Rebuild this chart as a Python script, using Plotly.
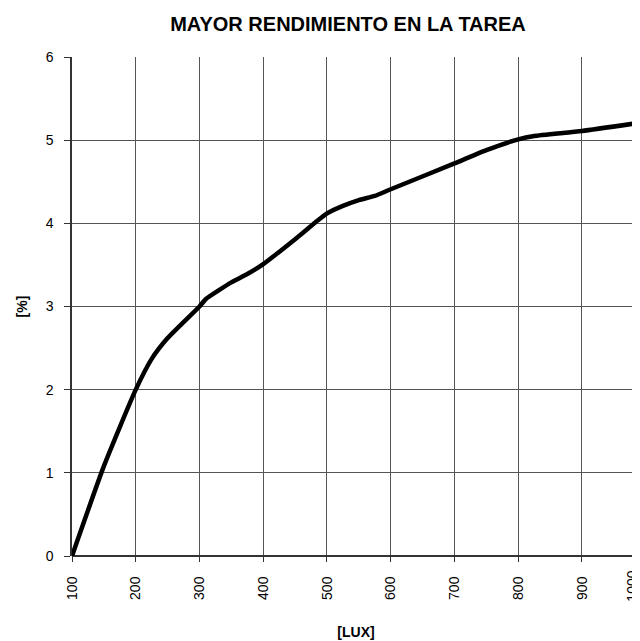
import plotly.graph_objects as go

# lux vs performance gain
lux = [100, 150, 200, 225, 250, 300, 310, 350, 375, 400, 450, 480, 500,
       525, 550, 575, 600, 700, 750, 800, 825, 900, 1000]
gain = [0.0, 1.08, 2.0, 2.37, 2.62, 3.0, 3.09, 3.29, 3.39, 3.51, 3.81, 4.0,
        4.12, 4.21, 4.28, 4.33, 4.41, 4.72, 4.88, 5.01, 5.05, 5.11, 5.22]

tick_vals = [100, 200, 300, 400, 500, 600, 700, 800, 900]
y_ticks = [0, 1, 2, 3, 4, 5, 6]

FONT = "Arial, Liberation Sans, sans-serif"

# the page body has an 8px margin, so the figure is drawn 8px smaller
W, H = 632, 633

fig = go.Figure()
fig.add_trace(go.Scatter(
    x=lux, y=gain, mode="lines",
    line=dict(color="black", width=4.5, shape="spline", smoothing=0.5),
    showlegend=False, hoverinfo="skip",
))

fig.update_layout(
    width=W, height=H,
    margin=dict(l=64, r=0, t=49, b=85),
    paper_bgcolor="white", plot_bgcolor="white",
    font=dict(family=FONT, size=14, color="black"),
    title=dict(
        text="<b>MAYOR RENDIMIENTO EN LA TAREA</b>",
        font=dict(size=20, family=FONT),
        x=340 / W, xref="container", xanchor="center",
        y=1 - 16 / H, yref="container", yanchor="middle",
    ),
)

fig.update_xaxes(
    range=[100, 991], tickvals=tick_vals, tickangle=-90,
    showgrid=True, gridcolor="#555555", gridwidth=1,
    ticks="outside", ticklen=5, tickcolor="#333333",
    showline=False, zeroline=False,
    ticklabelstandoff=9,
    title=dict(text="<b>[LUX]</b>", font=dict(size=14), standoff=28),
)
fig.update_yaxes(
    range=[0, 6], tickvals=y_ticks,
    showgrid=True, gridcolor="#555555", gridwidth=1,
    ticks="outside", ticklen=6, tickcolor="#333333",
    showline=True, linecolor="#333333", linewidth=1.5,
    zeroline=True, zerolinecolor="#333333", zerolinewidth=1.5,
    ticklabelstandoff=8,
    title=dict(text="<b>[%]</b>", font=dict(size=14), standoff=15),
)

# the last category label sits against the right edge of the picture
fig.add_annotation(
    text="1000", x=1 - 8.3 / 568, xref="paper", y=-0.06, yref="paper",
    textangle=-90, showarrow=False, font=dict(size=14),
    xanchor="center", yanchor="middle",
)

fig.write_html("out.html")
